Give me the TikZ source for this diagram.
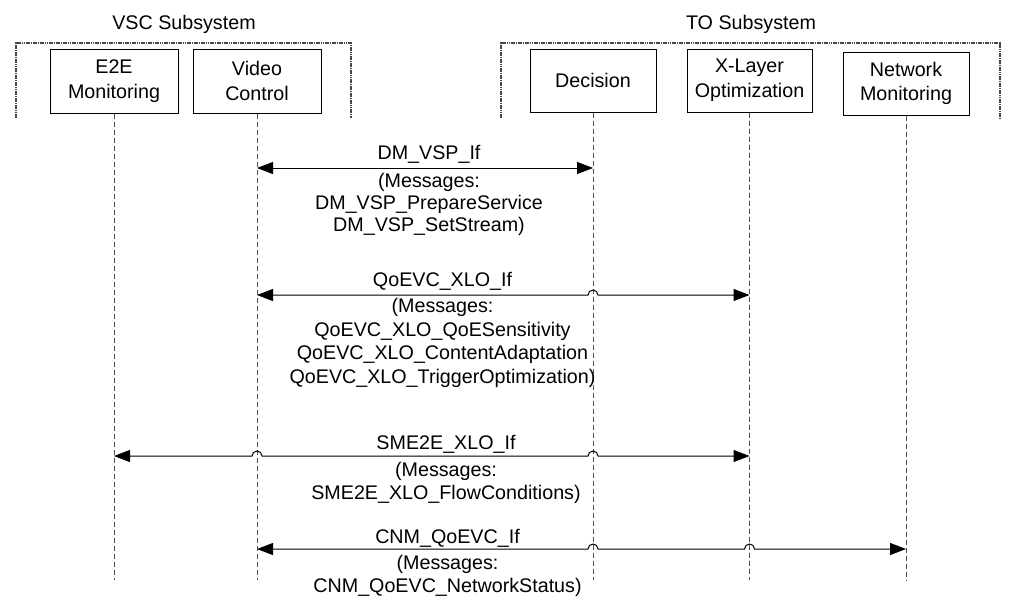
\documentclass[tikz,border=0pt]{standalone}
\usepackage{fontspec}
\setmainfont{Liberation Sans}
\usetikzlibrary{arrows.meta,calc}
\newcommand\lblfont{\fontsize{19.7pt}{23pt}\selectfont}
\newcommand\boxfont{\fontsize{19.7pt}{24.5pt}\selectfont}
\definecolor{lifegray}{RGB}{80,80,80}
\definecolor{framegray}{RGB}{70,70,70}
\begin{document}
\begin{tikzpicture}[x=1pt,y=-1pt,
  box/.style={draw, line width=1pt, inner sep=0pt, align=center, font=\boxfont,
              minimum width=#1, minimum height=63pt},
  box/.default=126pt,
  life/.style={draw=lifegray, line width=1pt, dash pattern=on 5pt off 3pt},
  frame/.style={draw=framegray, line width=2.2pt, dash pattern=on 1.6pt off 0.7pt},
  conn/.style={draw, line width=1pt,
     {Triangle[length=16pt,width=12pt]}-{Triangle[length=16pt,width=12pt]}},
  lbl/.style={font=\lblfont, anchor=base, inner sep=0pt}]
\useasboundingbox (0,0) rectangle (1011,597);

% titles
\node[lbl] (vsct) at (184,29) {VSC Subsystem};
\node[lbl] (tot) at (751,29) {TO Subsystem};

% subsystem frames
\coordinate (vscA) at (16,118);
\coordinate (vscB) at (16,43);
\coordinate (vscC) at (351,43);
\coordinate (vscD) at (351,118);
\draw[frame] (vscA) -- (vscB) -- (vscC) -- (vscD);
\coordinate (toA) at (501,118);
\coordinate (toB) at (501,43);
\coordinate (toC) at (1000,43);
\coordinate (toD) at (1000,118);
\draw[frame] (toA) -- (toB) -- (toC) -- (toD);

% components
\node[box=128pt, minimum height=64pt] (e2e) at (114,81) {E2E\\Monitoring};
\node[box=128pt, minimum height=64pt] (vc) at (257,81) {Video\\Control};
\node[box=126pt] (dc) at (593,80.5) {Decision};
\node[box=125pt] (xl) at (749.5,80.5) {X-Layer\\Optimization};
\node[box=126pt] (nm) at (906,83.5) {Network\\Monitoring};

% lifelines
\draw[life] (e2e.south) -- (e2e.south |- 0,580);
\draw[life] (vc.south) -- (vc.south |- 0,580);
\draw[life] (dc.south) -- (dc.south |- 0,580);
\draw[life] (xl.south) -- (xl.south |- 0,580);
\draw[life] (nm.south) -- (nm.south |- 0,580);

% DM_VSP_If
\coordinate (dmL) at (vc.south |- 0,168);
\coordinate (dmR) at (dc.south |- 0,168);
\draw[conn] (dmL) -- (dmR);
\node[lbl] (dm1) at (429,159) {DM\_VSP\_If};
\node[lbl] (dm2) at (429,187) {(Messages:};
\node[lbl] (dm3) at (429,209) {DM\_VSP\_PrepareService};
\node[lbl] (dm4) at (429,231) {DM\_VSP\_SetStream)};

% QoEVC_XLO_If
\coordinate (qL) at (vc.south |- 0,295);
\coordinate (qR) at (xl.south |- 0,295);
\draw[conn] (qL) -- ($(dc.south |- qL)+(-5,0)$) arc[start angle=180,end angle=0,radius=5pt] -- (qR);
\node[lbl] (q1) at (442.5,286) {QoEVC\_XLO\_If};
\node[lbl] (q2) at (442.5,312) {(Messages:};
\node[lbl] (q3) at (442.5,336) {QoEVC\_XLO\_QoESensitivity};
\node[lbl] (q4) at (442.5,359) {QoEVC\_XLO\_ContentAdaptation};
\node[lbl] (q5) at (442.5,383) {QoEVC\_XLO\_TriggerOptimization)};

% SME2E_XLO_If
\coordinate (sL) at (e2e.south |- 0,456);
\coordinate (sR) at (xl.south |- 0,456);
\draw[conn] (sL) -- ($(vc.south |- sL)+(-5,0)$) arc[start angle=180,end angle=0,radius=5pt]
  -- ($(dc.south |- sL)+(-5,0)$) arc[start angle=180,end angle=0,radius=5pt] -- (sR);
\node[lbl] (s1) at (446,449) {SME2E\_XLO\_If};
\node[lbl] (s2) at (446,476) {(Messages:};
\node[lbl] (s3) at (446,499) {SME2E\_XLO\_FlowConditions)};

% CNM_QoEVC_If
\coordinate (cL) at (vc.south |- 0,549);
\coordinate (cR) at (nm.south |- 0,549);
\draw[conn] (cL) -- ($(dc.south |- cL)+(-5,0)$) arc[start angle=180,end angle=0,radius=5pt]
  -- ($(xl.south |- cL)+(-5,0)$) arc[start angle=180,end angle=0,radius=5pt] -- (cR);
\node[lbl] (c1) at (447.5,543) {CNM\_QoEVC\_If};
\node[lbl] (c2) at (447.5,569) {(Messages:};
\node[lbl] (c3) at (447.5,592) {CNM\_QoEVC\_NetworkStatus)};
\end{tikzpicture}
\end{document}
